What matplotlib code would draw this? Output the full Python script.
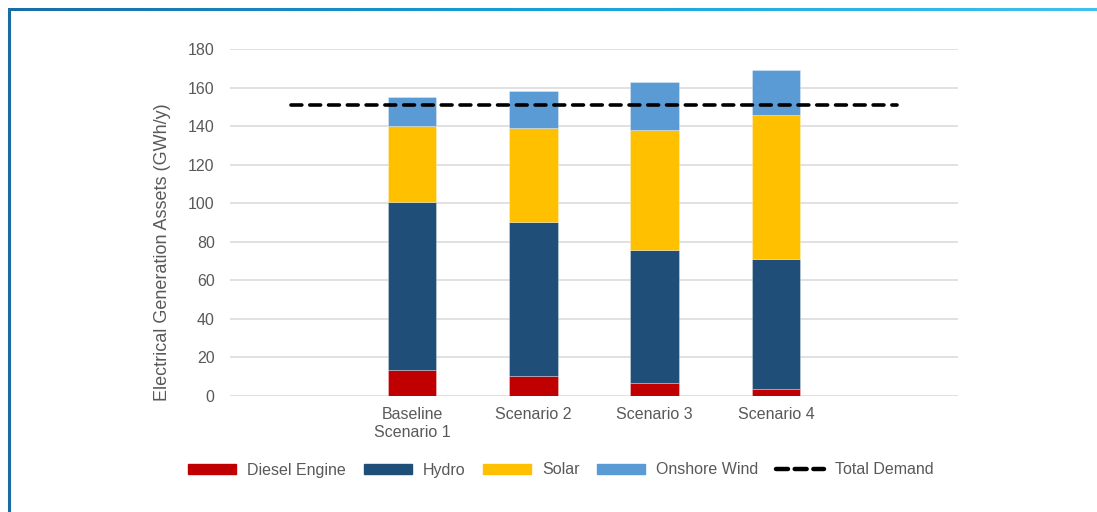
import numpy as np
import matplotlib
matplotlib.use("Agg")
import matplotlib.pyplot as plt
from matplotlib.patches import Rectangle
from matplotlib.lines import Line2D
from matplotlib.colors import LinearSegmentedColormap

plt.rcParams['font.family'] = ['Liberation Sans', 'DejaVu Sans']

# Scenario categories (empty slots on each side keep the bars centred)
categories = ["", "Baseline\nScenario 1", "Scenario 2", "Scenario 3", "Scenario 4", ""]
diesel = [13.6, 10.4, 6.7, 3.8]
hydro = [87.0, 79.7, 69.0, 67.1]
solar = [39.6, 48.7, 62.1, 75.0]
onshore_wind = [14.9, 19.2, 24.9, 23.0]
total_demand = 151.0
y_ticks = [0, 20, 40, 60, 80, 100, 120, 140, 160, 180]

series_names = ["Diesel Engine", "Hydro", "Solar", "Onshore Wind"]
series_colors = ["#C00000", "#1F4E79", "#FFC000", "#5B9BD5"]
text_gray = "#595959"

W, H = 1097, 512
fig = plt.figure(figsize=(W / 100, H / 100), dpi=100)
ax = fig.add_axes([230 / W, 1 - 396 / H, 728 / W, (396 - 49) / H])

x_bars = np.arange(1, 5)
bottom = np.zeros(4)
for vals, name, col in zip([diesel, hydro, solar, onshore_wind], series_names, series_colors):
    ax.bar(x_bars, vals, width=0.4, bottom=bottom, color=col, label=name,
           edgecolor=(1, 1, 1, 0.35), linewidth=0.6, zorder=3)
    bottom += np.array(vals)

ax.plot([0, 5], [total_demand, total_demand], color="black", lw=2.6,
        linestyle=(0, (3.0, 2.2)), dash_capstyle="round", zorder=4)

ax.set_xlim(-0.5, 5.5)
ax.set_ylim(0, 180)
ax.set_xticks(range(len(categories)))
ax.set_xticklabels(categories)
ax.set_yticks(y_ticks)
ax.yaxis.grid(True, color="#D9D9D9", linewidth=1.1, zorder=0)
ax.set_axisbelow(True)
for s in ax.spines.values():
    s.set_visible(False)
ax.tick_params(axis="both", length=0, labelsize=11.5, colors=text_gray)
ax.tick_params(axis="y", pad=11)
ax.tick_params(axis="x", pad=8)
ax.set_ylabel("Electrical Generation Assets (GWh/y)", fontsize=13, color=text_gray)
ax.yaxis.set_label_coords((171 - 230) / 728, (396 - 252) / 347)

handles = [Rectangle((0, 0), 1, 1, color=c) for c in series_colors]
handles.append(Line2D([0], [0], color="black", lw=3.2, linestyle=(0, (2.7, 1.5)),
                      dash_capstyle="round"))
labels = series_names + ["Total Demand"]
leg = fig.legend(handles, labels, loc="center", bbox_to_anchor=(561 / W, 1 - 470 / H),
                 ncol=5, frameon=False, fontsize=11.5, handlelength=3.0,
                 handleheight=0.6, handletextpad=0.7, columnspacing=1.1)
for t in leg.get_texts():
    t.set_color(text_gray)

# Frame: dark left edge and a gradient rule along the top
frame = fig.add_axes([0, 0, 1, 1], facecolor="none")
frame.set_xlim(0, W)
frame.set_ylim(H, 0)
frame.axis("off")
frame.plot([8.5, 8.5], [9.5, H], color="#1B6CA3", lw=2.2, solid_capstyle="butt")
rule_cmap = LinearSegmentedColormap.from_list("rule", ["#1A6DA5", "#14A3DC", "#3EC1EE"])
frame.imshow(np.linspace(0, 1, 512)[None, :], cmap=rule_cmap, aspect="auto",
             extent=(7.5, W, 11.5, 9.0), interpolation="bilinear")
frame.set_xlim(0, W)
frame.set_ylim(H, 0)

fig.savefig("out.png", dpi=100)
